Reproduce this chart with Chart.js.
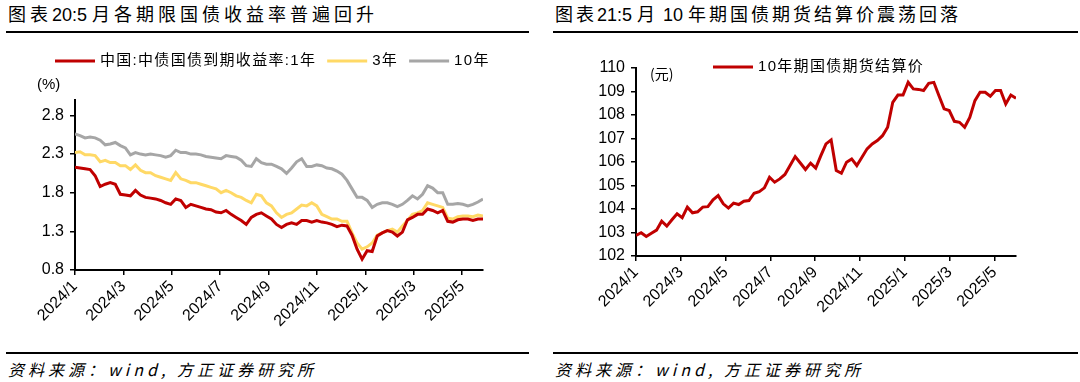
<!DOCTYPE html>
<html lang="zh-CN">
<head>
  <meta charset="UTF-8" />
  <title>国债收益率与国债期货</title>
  <script src="https://cdn.jsdelivr.net/npm/chart.js"></script>
  <style>
    body { margin: 0; width: 1080px; height: 382px; background: #fff; position: relative; overflow: hidden;
           font-family: "Liberation Sans", "Noto Sans CJK SC", sans-serif; color: #000; }
    .title { position: absolute; top: 4px; font-size: 18px; line-height: 22px; white-space: nowrap; }
    .title .cjk { letter-spacing: 4px; }
    .title.narrow .cjk { letter-spacing: 3px; }
    .rule { position: absolute; height: 2px; background: #000; }
    .source { position: absolute; top: 360px; font-size: 16px; line-height: 18px; letter-spacing: 4px;
              font-style: italic; white-space: nowrap; font-family: "Noto Sans CJK SC", sans-serif; }
    canvas { position: absolute; top: 0; }
  </style>
</head>
<body>
  <div class="title" style="left:8px"><span class="cjk">图表</span>20:5 <span class="cjk">月各期限国债收益率普遍回升</span></div>
  <div class="rule" style="left:6px;width:523px;top:31px"></div>
  <div class="title narrow" style="left:555px"><span class="cjk">图表</span>21:5 <span class="cjk">月</span> 10 <span class="cjk">年期国债期货结算价震荡回落</span></div>
  <div class="rule" style="left:553px;width:525px;top:31px"></div>

  <canvas id="yieldChart" width="540" height="345" style="left:0"></canvas>
  <canvas id="futuresChart" width="540" height="345" style="left:540px"></canvas>

  <div class="rule" style="left:6px;width:523px;top:352px"></div>
  <div class="source" style="left:8px">资料来源：wind, 方正证券研究所</div>
  <div class="rule" style="left:553px;width:525px;top:352px"></div>
  <div class="source" style="left:555px">资料来源：wind, 方正证券研究所</div>

  <script>
    // x axis: months since 2024/1, a tick every two months
    const monthLabels = ['2024/1', '2024/3', '2024/5', '2024/7', '2024/9', '2024/11', '2025/1', '2025/3', '2025/5'];

    // 国债到期收益率 (%), roughly weekly samples from 2024/1 to 2025/6
    const yield1y = [2.13, 2.12, 2.11, 2.10, 2.02, 1.88, 1.91, 1.93, 1.91, 1.78, 1.77, 1.76, 1.83, 1.77, 1.74, 1.73, 1.72, 1.70, 1.67, 1.65,
      1.72, 1.70, 1.61, 1.65, 1.63, 1.61, 1.59, 1.58, 1.55, 1.54, 1.57, 1.52, 1.48, 1.44, 1.39, 1.48, 1.52, 1.54, 1.50, 1.46,
      1.39, 1.35, 1.39, 1.41, 1.39, 1.44, 1.44, 1.42, 1.44, 1.42, 1.41, 1.39, 1.36, 1.38, 1.37, 1.25, 1.07, 0.94, 1.05, 1.04,
      1.24, 1.28, 1.31, 1.29, 1.24, 1.29, 1.45, 1.48, 1.52, 1.52, 1.59, 1.57, 1.54, 1.57, 1.43, 1.42, 1.45, 1.46, 1.46, 1.44, 1.46, 1.46];
    const yield3y = [2.32, 2.33, 2.29, 2.29, 2.28, 2.20, 2.22, 2.19, 2.19, 2.15, 2.15, 2.10, 2.16, 2.09, 2.06, 2.06, 2.02, 2.00, 1.98, 1.96,
      2.06, 1.98, 1.96, 1.93, 1.93, 1.91, 1.89, 1.87, 1.85, 1.80, 1.83, 1.80, 1.76, 1.74, 1.70, 1.67, 1.78, 1.76, 1.67, 1.63,
      1.54, 1.48, 1.52, 1.54, 1.59, 1.64, 1.63, 1.67, 1.63, 1.52, 1.49, 1.46, 1.46, 1.43, 1.43, 1.28, 1.15, 1.07, 1.10, 1.15,
      1.25, 1.28, 1.31, 1.33, 1.29, 1.37, 1.44, 1.52, 1.54, 1.57, 1.67, 1.65, 1.63, 1.61, 1.47, 1.46, 1.49, 1.50, 1.50, 1.49, 1.51, 1.50];
    const yield10y = [2.56, 2.54, 2.51, 2.52, 2.51, 2.48, 2.42, 2.43, 2.45, 2.41, 2.38, 2.29, 2.32, 2.30, 2.29, 2.30, 2.29, 2.28, 2.26, 2.28,
      2.35, 2.32, 2.32, 2.30, 2.30, 2.29, 2.27, 2.26, 2.25, 2.24, 2.28, 2.27, 2.26, 2.22, 2.15, 2.14, 2.24, 2.19, 2.17, 2.17,
      2.14, 2.11, 2.05, 2.12, 2.20, 2.24, 2.14, 2.14, 2.16, 2.15, 2.12, 2.11, 2.08, 2.04, 1.96, 1.85, 1.74, 1.74, 1.70, 1.61,
      1.65, 1.67, 1.67, 1.65, 1.62, 1.65, 1.70, 1.76, 1.72, 1.78, 1.89, 1.86, 1.80, 1.80, 1.65, 1.65, 1.66, 1.65, 1.63, 1.65, 1.68, 1.72];
    const yieldTicks = [0.8, 1.3, 1.8, 2.3, 2.8];

    // 10年期国债期货结算价 (元), weekly
    const futuresPrice = [102.88, 102.99, 102.83, 102.97, 103.10, 103.48, 103.27, 103.54, 103.80, 103.63,
      104.08, 103.84, 103.88, 104.08, 104.10, 104.39, 104.57, 104.22, 104.04, 104.25,
      104.19, 104.33, 104.36, 104.67, 104.74, 104.90, 105.35, 105.14, 105.28, 105.47,
      105.85, 106.23, 105.96, 105.68, 105.95, 105.74, 106.27, 106.77, 106.94, 105.64,
      105.52, 105.99, 106.13, 105.85, 106.20, 106.56, 106.77, 106.91, 107.12, 107.48,
      108.54, 108.85, 108.85, 109.39, 109.11, 109.09, 109.04, 109.35, 109.39, 108.82,
      108.26, 108.19, 107.73, 107.69, 107.48, 107.90, 108.61, 108.97, 108.97, 108.80,
      109.04, 109.04, 108.47, 108.85, 108.71];

    const LEFT_END = 16.86;   // months shown on the left x axis
    const RIGHT_END = 16.96;

    function toPoints(values, end) {
      const step = end / (values.length - 1);
      return values.map((v, i) => ({ x: i * step, y: v }));
    }

    const chartLabels = {
      id: 'chartLabels',
      afterDraw(chart, args, opts) {
        const ctx = chart.ctx;
        ctx.save();
        ctx.textBaseline = 'middle';
        ctx.textAlign = 'left';
        ctx.fillStyle = '#000';
        ctx.font = opts.unitFont;
        ctx.fillText(opts.unit, opts.unitX, opts.unitY);

        ctx.font = '15px "Liberation Sans", "Noto Sans CJK SC"';
        ctx.letterSpacing = '1.3px';
        let x = opts.legendX;
        chart.data.datasets.forEach(ds => {
          ctx.strokeStyle = ds.borderColor;
          ctx.lineWidth = 3;
          ctx.beginPath();
          ctx.moveTo(x, opts.legendY);
          ctx.lineTo(x + 40, opts.legendY);
          ctx.stroke();
          x += 45;
          ctx.fillText(ds.label, x, opts.legendY);
          x += ctx.measureText(ds.label).width + 11;
        });
        ctx.restore();
      }
    };

    function axisX(end, height) {
      return {
        type: 'linear', min: 0, max: end,
        afterBuildTicks: s => { s.ticks = monthLabels.map((_, i) => ({ value: i * 2 })); },
        afterFit: s => { s.height = height; },
        grid: { drawOnChartArea: false, tickLength: 5, color: '#000', lineWidth: 1.5 },
        border: { color: '#000', width: 2 },
        ticks: {
          autoSkip: false, maxRotation: 45, minRotation: 45, padding: 2, color: '#000',
          font: { family: 'Liberation Sans', size: 16 },
          callback: v => monthLabels[Math.round(v / 2)]
        }
      };
    }

    new Chart(document.getElementById('yieldChart'), {
      type: 'line',
      data: {
        datasets: [
          { label: '中国:中债国债到期收益率:1年', data: toPoints(yield1y, LEFT_END), borderColor: '#C00000' },
          { label: '3年', data: toPoints(yield3y, LEFT_END), borderColor: '#FFD966' },
          { label: '10年', data: toPoints(yield10y, LEFT_END), borderColor: '#A6A6A6' }
        ]
      },
      options: {
        responsive: false, animation: false,
        layout: { padding: { top: 100, right: 57, left: 0, bottom: 0 } },
        elements: { point: { radius: 0 }, line: { borderWidth: 3 } },
        plugins: {
          legend: { display: false }, tooltip: { enabled: false },
          chartLabels: { unit: '(%)', unitFont: '15px "Liberation Sans"', unitX: 37, unitY: 85, legendX: 55, legendY: 61 }
        },
        scales: {
          x: axisX(LEFT_END, 75),
          y: {
            min: 0.8, max: 3.0,
            afterBuildTicks: s => { s.ticks = yieldTicks.map(v => ({ value: v })); },
            afterFit: s => { s.width = 75; },
            grid: { drawOnChartArea: false, tickLength: 5, color: '#000', lineWidth: 1.5 },
            border: { color: '#000', width: 2 },
            ticks: { padding: 6, color: '#000', font: { family: 'Liberation Sans', size: 16 }, callback: v => v.toFixed(1) }
          }
        }
      },
      plugins: [chartLabels]
    });

    new Chart(document.getElementById('futuresChart'), {
      type: 'line',
      data: {
        datasets: [
          { label: '10年期国债期货结算价', data: toPoints(futuresPrice, RIGHT_END), borderColor: '#C00000' }
        ]
      },
      options: {
        responsive: false, animation: false,
        layout: { padding: { top: 68, right: 64, left: 0, bottom: 0 } },
        elements: { point: { radius: 0 }, line: { borderWidth: 3 } },
        plugins: {
          legend: { display: false }, tooltip: { enabled: false },
          chartLabels: { unit: '(元)', unitFont: '14px "Noto Sans CJK SC"', unitX: 110, unitY: 74, legendX: 173, legendY: 67 }
        },
        scales: {
          x: axisX(RIGHT_END, 89),
          y: {
            min: 102, max: 110,
            afterFit: s => { s.width = 96; },
            grid: { drawOnChartArea: false, tickLength: 5, color: '#000', lineWidth: 1.5 },
            border: { color: '#000', width: 2 },
            ticks: { stepSize: 1, padding: 6, color: '#000', font: { family: 'Liberation Sans', size: 16 } }
          }
        }
      },
      plugins: [chartLabels]
    });
  </script>
</body>
</html>
